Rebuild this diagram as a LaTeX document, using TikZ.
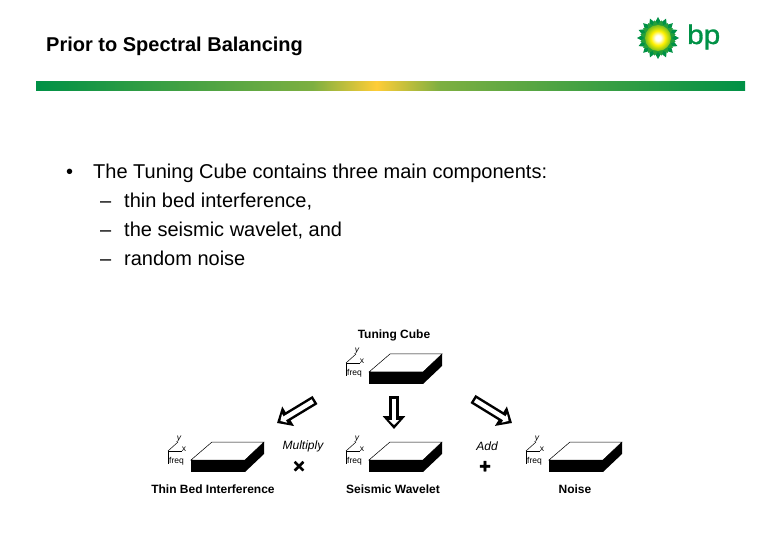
\documentclass[tikz,border=0pt]{standalone}
\usepackage{fontspec}
\setmainfont{Liberation Sans}
\newfontfamily\heavyfont[FakeBold=2]{Liberation Sans Bold}
\newfontfamily\logofont[FakeBold=1]{Liberation Sans}
\usetikzlibrary{arrows.meta, calc}
\definecolor{bpgreen}{RGB}{0,145,70}
\definecolor{bpmid}{RGB}{125,175,65}
\definecolor{bplime}{RGB}{120,190,30}
\definecolor{bpyellow}{RGB}{255,240,0}
\definecolor{bpgold}{RGB}{255,205,55}
\pgfdeclarehorizontalshading{bpband}{100bp}{
  color(0bp)=(bpgreen); color(25bp)=(bpgreen); color(44.5bp)=(bpmid); color(49bp)=(bpgold); color(53.5bp)=(bpmid); color(75bp)=(bpgreen); color(100bp)=(bpgreen)}
\pgfdeclareradialshading{bpsun}{\pgfpointorigin}{
  color(0bp)=(white); color(5bp)=(white); color(14bp)=(bpyellow); color(25bp)=(bplime); color(50bp)=(bplime)}
\tikzset{
	titletext/.style={font=\fontsize{20}{22}\selectfont\bfseries, anchor=base west, inner sep=0pt}
}
\tikzset{
	bodytext/.style={font=\fontsize{20}{22}\selectfont, anchor=base west, inner sep=0pt}
}
\tikzset{
	cubelabel/.style={font=\fontsize{12}{14}\selectfont\bfseries, inner sep=0pt}
}
\tikzset{
	optext/.style={font=\fontsize{12}{14}\selectfont\itshape, inner sep=0pt}
}
\tikzset{
	axistext/.style={font=\fontsize{8.5}{9}\selectfont, inner sep=0pt}
}
\tikzset{
	optoken/.style={font=\fontsize{20}{20}\selectfont\heavyfont, inner sep=0pt}
}
\tikzset{
	blockarrow/.style={draw=black, line width=9.5pt, -{Triangle[length=13pt,width=22pt]},
	  postaction={draw=white, line width=4.5pt, -{Triangle[length=5pt,width=10pt]}, shorten >=4pt, shorten <=2.5pt}}
}
% slab with its little axes, #1 name, (#2,#3) front left corner
\newcommand{\slabcube}[3]{
  \coordinate (#1) at (#2,#3);
  \draw[line width=0.5pt, fill=white] (#1) -- ++(21,-18) -- ++(52,0) -- ++(-19,18) -- cycle;
  \fill[black] (#1) rectangle ++(54,12);
  \fill[black] (#2+54,#3) -- ++(19,-18) -- ++(0,12) -- ++(-19,18) -- cycle;
  \coordinate (#1o) at (#2-23,#3-9);
  \draw[line width=0.5pt] (#1o) -- ++(0,13);
  \draw[line width=0.5pt] (#1o) -- ++(14,0);
  \draw[line width=0.5pt] (#1o) -- ++(10,-9);
  \node[axistext] (#1y) at (#2-12,#3-21) {\itshape y};
  \node[axistext] (#1x) at (#2-7,#3-11) {x};
  \node[axistext, anchor=west] (#1f) at (#2-22,#3+1) {freq};
}

\begin{document}
\begin{tikzpicture}[>=stealth, x=1pt, y=-1pt]
  \useasboundingbox (0,0) rectangle (780,540);
  % header
  \node[titletext] (title) at (46,52) {Prior to Spectral Balancing};
  \shade[shading=bpband] (36,82) rectangle (745,91);
  % logo
  \coordinate (sun) at (658,38);
  \foreach \a in {0,22.5,...,337.5}
    {\fill[bpgreen] ($(sun)+(\a:12)+(\a+90:5)$) -- ($(sun)+(\a:21)$) -- ($(sun)+(\a:12)+(\a-90:5)$) -- cycle;}
  \foreach \a in {11.25,33.75,...,348.75}
    {\fill[bpgreen!70!bplime] ($(sun)+(\a:10)+(\a+90:5)$) -- ($(sun)+(\a:18)$) -- ($(sun)+(\a:10)+(\a-90:5)$) -- cycle;}
  \shade[shading=bpsun] (sun) circle (13);
  \node[font=\fontsize{27}{27}\selectfont\logofont, text=bpgreen, inner sep=0pt, anchor=base west, xscale=1.1] (logotext) at (687,44) {bp};
  % bullets
  \node[bodytext] (bullet) at (66,179) {•};
  \node[bodytext] (main) at (93,179) {The Tuning Cube contains three main components:};
  \foreach \n/\yy/\l in {a/208/{thin bed interference,}, b/237/{the seismic wavelet, and}, c/266/random noise}
    {\node[bodytext] (dash\n) at (100,\yy) {–}; \node[bodytext] (item\n) at (124,\yy) {\l};}
  % cubes
  \node[cubelabel] (tuninglabel) at (394,335) {Tuning Cube};
  \slabcube{tuning}{369}{372}
  \slabcube{thinbed}{191}{460}
  \slabcube{wavelet}{369}{460}
  \slabcube{noise}{549}{460}
  \node[cubelabel] (thinbedlabel) at (213,489) {Thin Bed Interference};
  \node[cubelabel] (waveletlabel) at (393,489) {Seismic Wavelet};
  \node[cubelabel] (noiselabel) at (575,489) {Noise};
  % operators
  \node[optext] (multiply) at (303,446) {Multiply};
  \node[optext] (add) at (487,446) {Add};
  \node[optoken] (times) at (299,467) {×};
  \node[optoken] (plus) at (485,467) {+};
  % arrows
  \coordinate (lefttail) at (315,400);
  \coordinate (lefttip) at (277,423);
  \coordinate (midtail) at (394,396);
  \coordinate (midtip) at (394,429);
  \coordinate (righttail) at (473,399);
  \coordinate (righttip) at (512,423);
  \draw[blockarrow] (lefttail) -- (lefttip);
  \draw[blockarrow] (midtail) -- (midtip);
  \draw[blockarrow] (righttail) -- (righttip);
\end{tikzpicture}
\end{document}
